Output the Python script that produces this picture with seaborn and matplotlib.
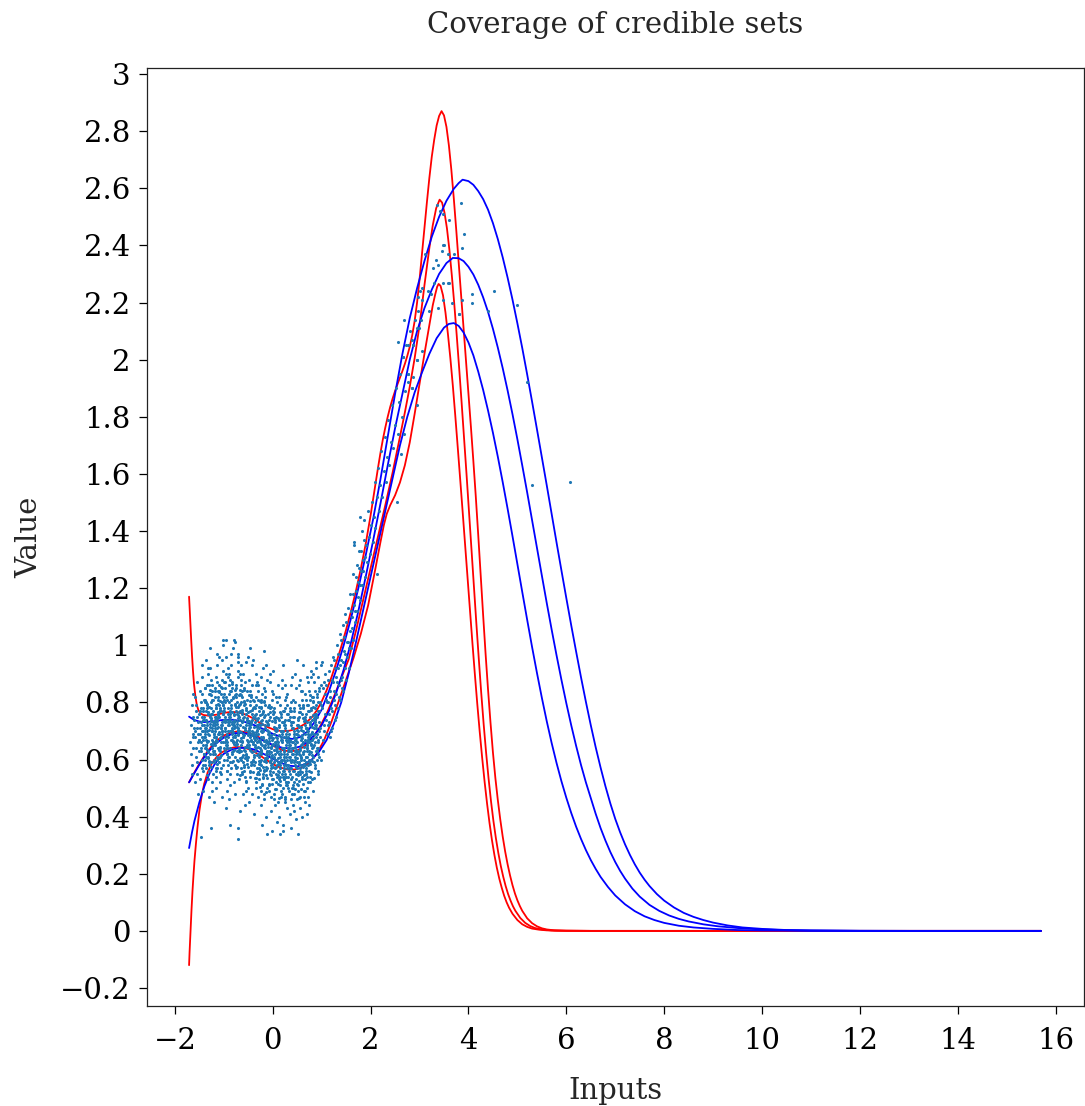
import matplotlib
matplotlib.use("Agg")
import matplotlib.pyplot as plt
from matplotlib.ticker import FuncFormatter
import seaborn as sns

sns.set_theme(style="white")
plt.rcParams["font.family"] = ["DejaVu Serif", "DejaVu Sans"]
plt.rcParams["axes.unicode_minus"] = True

# ---------------- curves ----------------
red_hi_x = [-1.71, -1.69, -1.67, -1.65, -1.63, -1.61, -1.58, -1.55, -1.52, -1.48, -1.42, -1.30, -1.15, -1.00,
            -0.85, -0.70, -0.55, -0.40, -0.25, -0.10, 0.05, 0.20, 0.35, 0.50, 0.65, 0.80, 0.90, 1.00, 1.10,
            1.20, 1.30, 1.40, 1.50, 1.60, 1.70, 1.80, 1.90, 2.00, 2.05, 2.10, 2.15, 2.20, 2.25, 2.30, 2.35,
            2.40, 2.45, 2.50, 2.55, 2.60, 2.65, 2.70, 2.75, 2.80, 2.85, 2.90, 2.95, 3.00, 3.05, 3.10, 3.15,
            3.20, 3.25, 3.30, 3.35, 3.40, 3.45, 3.50, 3.55, 3.60, 3.65, 3.70, 3.75, 3.80, 3.85, 3.90, 3.95,
            4.00, 4.05, 4.10, 4.15, 4.20, 4.25, 4.30, 4.35, 4.40, 4.45, 4.50, 4.55, 4.60, 4.65, 4.70, 4.75,
            4.80, 4.85, 4.90, 4.95, 5.00, 5.05, 5.10, 5.20, 5.30, 5.40, 5.50, 5.60, 5.75, 6.00, 6.50, 15.7]
red_hi_y = [1.17, 1.10, 1.03, 0.965, 0.91, 0.865, 0.82, 0.79, 0.773, 0.762, 0.756, 0.753, 0.757, 0.763,
            0.767, 0.765, 0.757, 0.744, 0.727, 0.713, 0.703, 0.699, 0.701, 0.709, 0.724, 0.748, 0.772, 0.803,
            0.842, 0.888, 0.94, 0.995, 1.055, 1.12, 1.19, 1.268, 1.355, 1.455, 1.51, 1.565, 1.62, 1.672, 1.72,
            1.762, 1.80, 1.834, 1.864, 1.89, 1.914, 1.937, 1.96, 1.985, 2.013, 2.045, 2.085, 2.135, 2.20, 2.28,
            2.37, 2.46, 2.55, 2.635, 2.71, 2.77, 2.82, 2.853, 2.87, 2.855, 2.815, 2.75, 2.665, 2.565, 2.455,
            2.34, 2.225, 2.11, 1.995, 1.88, 1.765, 1.645, 1.52, 1.385, 1.245, 1.105, 0.97, 0.845, 0.73, 0.625,
            0.535, 0.458, 0.39, 0.33, 0.278, 0.233, 0.194, 0.16, 0.131, 0.107, 0.087, 0.07, 0.044, 0.027,
            0.016, 0.009, 0.005, 0.002, 0.0006, 0.0, 0.0]

red_mid_x = [-1.71, -1.60, -1.50, -1.40, -1.30, -1.20, -1.10, -1.00, -0.85, -0.70, -0.55, -0.40, -0.25,
             -0.10, 0.05, 0.20, 0.35, 0.50, 0.65, 0.80, 0.95, 1.10, 1.25, 1.40, 1.55, 1.70, 1.85, 2.00, 2.15,
             2.30, 2.45, 2.60, 2.70, 2.80, 2.90, 3.00, 3.10, 3.20, 3.27, 3.34, 3.41, 3.46, 3.51, 3.56, 3.61,
             3.66, 3.71, 3.76, 3.81, 3.86, 3.91, 3.96, 4.01, 4.06, 4.11, 4.16, 4.21, 4.26, 4.31, 4.36, 4.41,
             4.46, 4.51, 4.56, 4.61, 4.66, 4.71, 4.76, 4.81, 4.86, 4.91, 4.96, 5.06, 5.16, 5.26, 5.36, 5.50,
             5.70, 6.00, 6.50, 15.7]
red_mid_y = [0.52, 0.555, 0.585, 0.612, 0.636, 0.656, 0.672, 0.684, 0.695, 0.699, 0.696, 0.688, 0.675,
             0.659, 0.644, 0.633, 0.628, 0.632, 0.646, 0.672, 0.71, 0.76, 0.82, 0.885, 0.95, 1.05, 1.16, 1.27,
             1.38, 1.49, 1.605, 1.73, 1.815, 1.905, 2.005, 2.12, 2.26, 2.39, 2.47, 2.53, 2.56, 2.55, 2.515,
             2.46, 2.385, 2.295, 2.195, 2.085, 1.97, 1.85, 1.725, 1.60, 1.47, 1.34, 1.21, 1.08, 0.955, 0.835,
             0.725, 0.625, 0.535, 0.455, 0.385, 0.325, 0.273, 0.228, 0.19, 0.157, 0.129, 0.106, 0.086, 0.07,
             0.045, 0.028, 0.017, 0.01, 0.005, 0.0015, 0.0004, 0.0, 0.0]

red_lo_x = [-1.71, -1.70, -1.68, -1.66, -1.64, -1.62, -1.60, -1.57, -1.54, -1.50, -1.45, -1.40, -1.33, -1.25,
            -1.15, -1.05, -0.90, -0.75, -0.60, -0.45, -0.30, -0.15, 0.00, 0.15, 0.30, 0.45, 0.60, 0.75, 0.90,
            1.05, 1.20, 1.35, 1.50, 1.65, 1.80, 1.95, 2.10, 2.20, 2.27, 2.33, 2.40, 2.50, 2.60, 2.70, 2.80,
            2.90, 3.00, 3.10, 3.20, 3.27, 3.32, 3.36, 3.39, 3.43, 3.48, 3.53, 3.58, 3.63, 3.68, 3.73, 3.78,
            3.83, 3.88, 3.93, 3.98, 4.03, 4.08, 4.13, 4.18, 4.23, 4.28, 4.33, 4.38, 4.43, 4.48, 4.53, 4.58,
            4.63, 4.68, 4.73, 4.78, 4.83, 4.90, 5.00, 5.10, 5.20, 5.30, 5.45, 5.60, 5.80, 6.50, 15.7]
red_lo_y = [-0.12, -0.075, 0.0, 0.075, 0.14, 0.195, 0.245, 0.305, 0.36, 0.42, 0.475, 0.515, 0.555, 0.585,
            0.608, 0.624, 0.638, 0.644, 0.642, 0.634, 0.619, 0.601, 0.584, 0.572, 0.565, 0.565, 0.572, 0.589,
            0.62, 0.668, 0.732, 0.805, 0.88, 0.955, 1.04, 1.14, 1.27, 1.36, 1.42, 1.46, 1.49, 1.525, 1.57,
            1.63, 1.71, 1.81, 1.915, 2.02, 2.12, 2.19, 2.228, 2.255, 2.265, 2.258, 2.225, 2.165, 2.09, 2.005,
            1.91, 1.805, 1.695, 1.583, 1.47, 1.355, 1.24, 1.125, 1.01, 0.90, 0.795, 0.697, 0.606, 0.522,
            0.446, 0.378, 0.318, 0.266, 0.221, 0.183, 0.151, 0.123, 0.10, 0.081, 0.06, 0.038, 0.023, 0.014,
            0.008, 0.004, 0.0018, 0.0006, 0.0, 0.0]

blue_hi_x = [-1.71, -1.60, -1.50, -1.40, -1.20, -1.00, -0.80, -0.60, -0.40, -0.20, 0.00, 0.20, 0.40, 0.55,
             0.70, 0.85, 1.00, 1.15, 1.30, 1.45, 1.60, 1.75, 1.90, 2.05, 2.20, 2.35, 2.50, 2.65, 2.80, 2.95,
             3.10, 3.25, 3.40, 3.55, 3.70, 3.80, 3.88, 4.00, 4.10, 4.20, 4.30, 4.40, 4.50, 4.60, 4.70, 4.80,
             4.90, 5.00, 5.10, 5.20, 5.30, 5.40, 5.50, 5.60, 5.70, 5.80, 5.90, 6.00, 6.10, 6.20, 6.30, 6.40,
             6.50, 6.60, 6.70, 6.80, 6.90, 7.00, 7.10, 7.20, 7.30, 7.40, 7.50, 7.60, 7.70, 7.85, 8.00, 8.20,
             8.40, 8.60, 8.80, 9.00, 9.30, 9.60, 10.0, 10.5, 11.0, 12.0, 13.0, 15.7]
blue_hi_y = [0.75, 0.738, 0.733, 0.731, 0.734, 0.739, 0.739, 0.733, 0.722, 0.707, 0.69, 0.677, 0.672, 0.678,
             0.697, 0.73, 0.775, 0.84, 0.915, 1.0, 1.095, 1.20, 1.315, 1.44, 1.58, 1.73, 1.88, 2.02, 2.145,
             2.25, 2.345, 2.43, 2.50, 2.556, 2.598, 2.618, 2.63, 2.625, 2.612, 2.59, 2.562, 2.525, 2.478,
             2.422, 2.358, 2.287, 2.21, 2.127, 2.04, 1.948, 1.853, 1.756, 1.658, 1.56, 1.46, 1.36, 1.262,
             1.165, 1.07, 0.978, 0.888, 0.802, 0.72, 0.643, 0.572, 0.506, 0.446, 0.392, 0.345, 0.303, 0.266,
             0.233, 0.204, 0.179, 0.157, 0.129, 0.106, 0.082, 0.063, 0.049, 0.038, 0.029, 0.019, 0.012,
             0.007, 0.003, 0.0015, 0.0003, 0.0, 0.0]

blue_mid_x = [-1.71, -1.60, -1.50, -1.40, -1.30, -1.20, -1.00, -0.80, -0.60, -0.40, -0.20, 0.00, 0.20, 0.40,
              0.55, 0.70, 0.85, 1.00, 1.15, 1.30, 1.45, 1.60, 1.75, 1.90, 2.05, 2.20, 2.35, 2.50, 2.65, 2.80,
              2.95, 3.10, 3.25, 3.40, 3.55, 3.68, 3.80, 3.90, 4.00, 4.10, 4.20, 4.30, 4.40, 4.50, 4.60, 4.70,
              4.80, 4.90, 5.00, 5.10, 5.20, 5.30, 5.40, 5.50, 5.60, 5.70, 5.80, 5.90, 6.00, 6.10, 6.20, 6.30,
              6.40, 6.50, 6.60, 6.70, 6.80, 6.90, 7.00, 7.10, 7.20, 7.35, 7.50, 7.70, 7.90, 8.10, 8.30, 8.50,
              8.80, 9.10, 9.50, 10.0, 10.5, 11.0, 12.0, 13.0, 15.7]
blue_mid_y = [0.52, 0.553, 0.582, 0.608, 0.63, 0.65, 0.677, 0.692, 0.693, 0.683, 0.667, 0.651, 0.641, 0.638,
              0.645, 0.66, 0.685, 0.72, 0.77, 0.835, 0.915, 1.01, 1.12, 1.24, 1.365, 1.495, 1.63, 1.76, 1.88,
              2.0, 2.1, 2.18, 2.245, 2.30, 2.338, 2.356, 2.355, 2.345, 2.325, 2.298, 2.262, 2.218, 2.167,
              2.108, 2.042, 1.97, 1.892, 1.809, 1.721, 1.629, 1.535, 1.438, 1.341, 1.244, 1.148, 1.055, 0.965,
              0.879, 0.797, 0.72, 0.648, 0.581, 0.52, 0.465, 0.41, 0.36, 0.316, 0.276, 0.241, 0.21, 0.183,
              0.148, 0.12, 0.091, 0.07, 0.054, 0.042, 0.033, 0.023, 0.016, 0.01, 0.005, 0.0025, 0.0012,
              0.0002, 0.0, 0.0]

blue_lo_x = [-1.71, -1.65, -1.60, -1.50, -1.40, -1.30, -1.20, -1.10, -1.00, -0.85, -0.70, -0.55, -0.40,
             -0.25, -0.10, 0.05, 0.20, 0.35, 0.50, 0.65, 0.80, 0.95, 1.10, 1.25, 1.40, 1.55, 1.70, 1.85, 2.00,
             2.15, 2.30, 2.45, 2.60, 2.75, 2.90, 3.05, 3.20, 3.35, 3.50, 3.60, 3.70, 3.80, 3.90, 4.00, 4.10,
             4.20, 4.30, 4.40, 4.50, 4.60, 4.70, 4.80, 4.90, 5.00, 5.10, 5.20, 5.30, 5.40, 5.50, 5.60, 5.70,
             5.80, 5.90, 6.00, 6.10, 6.20, 6.30, 6.40, 6.50, 6.60, 6.70, 6.85, 7.00, 7.20, 7.40, 7.60, 7.80,
             8.00, 8.30, 8.60, 9.00, 9.50, 10.0, 11.0, 12.0, 15.7]
blue_lo_y = [0.29, 0.345, 0.385, 0.45, 0.505, 0.548, 0.58, 0.604, 0.62, 0.634, 0.64, 0.641, 0.636, 0.625,
             0.612, 0.598, 0.586, 0.578, 0.576, 0.583, 0.60, 0.628, 0.668, 0.725, 0.80, 0.90, 1.01, 1.125,
             1.24, 1.355, 1.47, 1.585, 1.70, 1.80, 1.885, 1.955, 2.02, 2.075, 2.112, 2.125, 2.128, 2.118,
             2.095, 2.06, 2.015, 1.958, 1.894, 1.822, 1.744, 1.66, 1.571, 1.478, 1.382, 1.284, 1.186, 1.089,
             0.994, 0.903, 0.816, 0.734, 0.658, 0.588, 0.524, 0.466, 0.413, 0.365, 0.322, 0.283, 0.248, 0.217,
             0.189, 0.154, 0.124, 0.093, 0.069, 0.051, 0.038, 0.028, 0.018, 0.012, 0.007, 0.003, 0.0015,
             0.0003, 0.0, 0.0]

blob_x = [
    -1.69, -1.67, -1.66, -1.64, -1.62, -1.68, -1.65, -1.63, -1.61, -1.66, -1.64, -1.62,
    -1.59, -1.57, -1.56, -1.54, -1.52, -1.51, -1.58, -1.55, -1.53, -1.60, -1.57, -1.55, -1.52, -1.59, -1.54,
    -1.56, -1.51, -1.58, -1.53, -1.55,
    -1.49, -1.47, -1.46, -1.44, -1.42, -1.41, -1.48, -1.45, -1.43, -1.50, -1.47, -1.45, -1.42, -1.49, -1.44,
    -1.46, -1.41, -1.48, -1.43, -1.45, -1.47, -1.42, -1.50, -1.44, -1.46, -1.48,
    -1.39, -1.37, -1.36, -1.34, -1.32, -1.31, -1.38, -1.35, -1.33, -1.40, -1.37, -1.35, -1.32, -1.39, -1.34,
    -1.36, -1.31, -1.38, -1.33, -1.35, -1.37, -1.32, -1.40, -1.34, -1.36, -1.38, -1.30, -1.33, -1.39, -1.35,
    -1.31, -1.36,
    -1.23, -1.28, -1.21, -1.25, -1.30, -1.24, -1.22, -1.27, -1.29, -1.24, -1.20, -1.26, -1.25, -1.23, -1.28,
    -1.21, -1.27, -1.24, -1.29, -1.22, -1.25, -1.26, -1.23, -1.30, -1.21, -1.24, -1.27, -1.28, -1.22, -1.25,
    -1.26, -1.23,
    -1.15, -1.12, -1.19, -1.13, -1.14, -1.17, -1.20, -1.11, -1.16, -1.13, -1.15, -1.18, -1.10, -1.14, -1.19,
    -1.12, -1.17, -1.15, -1.11, -1.16, -1.18, -1.13, -1.14, -1.19, -1.12, -1.17, -1.15, -1.11, -1.20, -1.14,
    -1.18, -1.13,
    -1.09, -1.07, -1.06, -1.04, -1.02, -1.01, -1.08, -1.05, -1.03, -1.10, -1.07, -1.05, -1.02, -1.09, -1.04,
    -1.06, -1.01, -1.08, -1.03, -1.05, -1.07, -1.02, -1.10, -1.04, -1.06, -1.08, -1.00, -1.03, -1.09, -1.05,
    -1.01, -1.06,
    -0.93, -0.98, -0.91, -0.95, -1.00, -0.94, -0.92, -0.97, -0.99, -0.94, -0.90, -0.96, -0.95, -0.93, -0.98,
    -0.91, -0.97, -0.94, -0.99, -0.92, -0.95, -0.96, -0.93, -1.00, -0.91, -0.94, -0.97, -0.98, -0.92, -0.95,
    -0.96, -0.93,
    -0.85, -0.82, -0.89, -0.83, -0.84, -0.87, -0.90, -0.81, -0.86, -0.83, -0.85, -0.88, -0.80, -0.84, -0.89,
    -0.82, -0.87, -0.85, -0.81, -0.86, -0.88, -0.83, -0.84, -0.89, -0.82, -0.87, -0.85, -0.81, -0.90, -0.84,
    -0.88, -0.83,
    -0.79, -0.77, -0.76, -0.74, -0.72, -0.71, -0.78, -0.75, -0.73, -0.80, -0.77, -0.75, -0.72, -0.79, -0.74,
    -0.76, -0.71, -0.78, -0.73, -0.75, -0.77, -0.72, -0.80, -0.74, -0.76, -0.78, -0.70, -0.73, -0.79, -0.75,
    -0.71, -0.76,
    -0.63, -0.68, -0.61, -0.65, -0.70, -0.64, -0.62, -0.67, -0.69, -0.64, -0.60, -0.66, -0.65, -0.63, -0.68,
    -0.61, -0.67, -0.64, -0.69, -0.62, -0.65, -0.66, -0.63, -0.70, -0.61, -0.64, -0.67, -0.68, -0.62, -0.65,
    -0.66, -0.63,
    -0.55, -0.52, -0.59, -0.53, -0.54, -0.57, -0.60, -0.51, -0.56, -0.53, -0.55, -0.58, -0.50, -0.54, -0.59,
    -0.52, -0.57, -0.55, -0.51, -0.56, -0.58, -0.53, -0.54, -0.59, -0.52, -0.57, -0.55, -0.51, -0.60, -0.54,
    -0.58, -0.53,
    -0.49, -0.47, -0.46, -0.44, -0.42, -0.41, -0.48, -0.45, -0.43, -0.50, -0.47, -0.45, -0.42, -0.49, -0.44,
    -0.46, -0.41, -0.48, -0.43, -0.45, -0.47, -0.42, -0.50, -0.44, -0.46, -0.48, -0.40, -0.43, -0.49, -0.45,
    -0.41, -0.46,
    -0.33, -0.38, -0.31, -0.35, -0.40, -0.34, -0.32, -0.37, -0.39, -0.34, -0.30, -0.36, -0.35, -0.33, -0.38,
    -0.31, -0.37, -0.34, -0.39, -0.32, -0.35, -0.36, -0.33, -0.40, -0.31, -0.34, -0.37, -0.38, -0.32, -0.35,
    -0.36, -0.33,
    -0.25, -0.22, -0.29, -0.23, -0.24, -0.27, -0.30, -0.21, -0.26, -0.23, -0.25, -0.28, -0.20, -0.24, -0.29,
    -0.22, -0.27, -0.25, -0.21, -0.26, -0.28, -0.23, -0.24, -0.29, -0.22, -0.27, -0.25, -0.21, -0.30, -0.24,
    -0.28, -0.23,
    -0.19, -0.17, -0.16, -0.14, -0.12, -0.11, -0.18, -0.15, -0.13, -0.20, -0.17, -0.15, -0.12, -0.19, -0.14,
    -0.16, -0.11, -0.18, -0.13, -0.15, -0.17, -0.12, -0.20, -0.14, -0.16, -0.18, -0.10, -0.13, -0.19, -0.15,
    -0.11, -0.16,
    -0.03, -0.08, -0.01, -0.05, -0.10, -0.04, -0.02, -0.07, -0.09, -0.04, 0.00, -0.06, -0.05, -0.03, -0.08,
    -0.01, -0.07, -0.04, -0.09, -0.02, -0.05, -0.06, -0.03, -0.10, -0.01, -0.04, -0.07, -0.08, -0.02, -0.05,
    -0.06, -0.03,
    0.05, 0.08, 0.01, 0.07, 0.06, 0.03, 0.00, 0.09, 0.04, 0.07, 0.05, 0.02, 0.10, 0.06, 0.01,
    0.08, 0.03, 0.05, 0.09, 0.04, 0.02, 0.07, 0.06, 0.01, 0.08, 0.03, 0.05, 0.09, 0.00, 0.06,
    0.02, 0.07,
    0.11, 0.13, 0.14, 0.16, 0.18, 0.19, 0.12, 0.15, 0.17, 0.10, 0.13, 0.15, 0.18, 0.11, 0.16,
    0.14, 0.19, 0.12, 0.17, 0.15, 0.13, 0.18, 0.10, 0.16, 0.14, 0.12, 0.20, 0.17, 0.11, 0.15,
    0.19, 0.14,
    0.27, 0.22, 0.29, 0.25, 0.20, 0.26, 0.28, 0.23, 0.21, 0.26, 0.30, 0.24, 0.25, 0.27, 0.22,
    0.29, 0.23, 0.26, 0.21, 0.28, 0.25, 0.24, 0.27, 0.20, 0.29, 0.26, 0.23, 0.22, 0.28, 0.25,
    0.24, 0.27,
    0.35, 0.38, 0.31, 0.37, 0.36, 0.33, 0.30, 0.39, 0.34, 0.37, 0.35, 0.32, 0.40, 0.36, 0.31,
    0.38, 0.33, 0.35, 0.39, 0.34, 0.32, 0.37, 0.36, 0.31, 0.38, 0.33, 0.35, 0.39, 0.30, 0.36,
    0.32, 0.37,
    0.41, 0.43, 0.44, 0.46, 0.48, 0.49, 0.42, 0.45, 0.47, 0.40, 0.43, 0.45, 0.48, 0.41, 0.46,
    0.44, 0.49, 0.42, 0.47, 0.45, 0.43, 0.48, 0.40, 0.46, 0.44, 0.42, 0.50, 0.47, 0.41, 0.45,
    0.49, 0.44,
    0.57, 0.52, 0.59, 0.55, 0.50, 0.56, 0.58, 0.53, 0.51, 0.56, 0.60, 0.54, 0.55, 0.57, 0.52,
    0.59, 0.53, 0.56, 0.51, 0.58, 0.55, 0.54, 0.57, 0.50, 0.59, 0.56, 0.53, 0.52, 0.58, 0.55,
    0.54, 0.57,
    0.65, 0.68, 0.61, 0.67, 0.66, 0.63, 0.60, 0.69, 0.64, 0.67, 0.65, 0.62, 0.70, 0.66, 0.61,
    0.68, 0.63, 0.65, 0.69, 0.64, 0.62, 0.67, 0.66, 0.61, 0.68, 0.63, 0.65, 0.69, 0.60, 0.66,
    0.62, 0.67,
    0.71, 0.73, 0.74, 0.76, 0.78, 0.79, 0.72, 0.75, 0.77, 0.70, 0.73, 0.75, 0.78, 0.71, 0.76,
    0.74, 0.79, 0.72, 0.77, 0.75, 0.73, 0.78, 0.70, 0.76, 0.74, 0.72, 0.80, 0.77, 0.71, 0.75,
    0.79, 0.74,
    0.81, 0.83, 0.84, 0.86, 0.88, 0.89, 0.82, 0.85, 0.87, 0.80, 0.83, 0.85, 0.88, 0.81, 0.86,
    0.84, 0.89, 0.82, 0.87, 0.85, 0.83, 0.88, 0.80, 0.86,
    0.91, 0.93, 0.94, 0.96, 0.98, 0.99, 0.92, 0.95, 0.97, 0.90, 0.93, 0.95, 0.98, 0.91, 0.96,
    0.94, 0.99, 0.92,
    1.01, 1.03, 1.04, 1.06, 1.08, 1.02, 1.05, 1.07, 1.00, 1.04, 1.06, 1.03,
]
blob_y = [
    0.66, 0.72, 0.58, 0.75, 0.69, 0.62, 0.79, 0.64, 0.71, 0.55, 0.68, 0.83,
    0.70, 0.64, 0.77, 0.59, 0.73, 0.67, 0.82, 0.55, 0.69, 0.74, 0.61, 0.87, 0.66, 0.52, 0.71,
    0.79, 0.63, 0.68, 0.48, 0.75,
    0.71, 0.66, 0.78, 0.60, 0.74, 0.68, 0.84, 0.57, 0.70, 0.76, 0.63, 0.89, 0.65, 0.53, 0.72,
    0.80, 0.62, 0.69, 0.49, 0.75, 0.73, 0.58, 0.67, 0.93, 0.64, 0.77,
    0.70, 0.74, 0.65, 0.79, 0.61, 0.83, 0.68, 0.72, 0.63, 0.81, 0.57, 0.86, 0.69, 0.71, 0.66,
    0.77, 0.59, 0.85, 0.53, 0.73, 0.67, 0.76, 0.62, 0.70, 0.64, 0.80, 0.56, 0.90, 0.60, 0.78,
    0.47, 0.95,
    0.77, 0.62, 0.73, 0.84, 0.58, 0.70, 0.66, 0.88, 0.75, 0.52, 0.69, 0.80, 0.64, 0.72, 0.92,
    0.60, 0.74, 0.67, 0.83, 0.55, 0.71, 0.78, 0.63, 0.86, 0.68, 0.49, 0.76, 0.99, 0.65, 0.81,
    0.59, 0.73,
    0.68, 0.82, 0.74, 0.57, 0.71, 0.89, 0.63, 0.76, 0.66, 0.93, 0.54, 0.72, 0.79, 0.61, 0.85,
    0.69, 0.75, 0.50, 0.64, 0.78, 0.70, 0.97, 0.60, 0.73, 0.84, 0.56, 0.67, 0.81, 0.45, 0.74,
    0.62, 0.87,
    0.75, 0.61, 0.83, 0.70, 0.91, 0.66, 0.78, 0.55, 0.73, 0.86, 0.64, 0.71, 1.00, 0.59, 0.80,
    0.68, 0.76, 0.52, 0.88, 0.72, 0.63, 0.82, 0.69, 0.95, 0.57, 0.77, 0.74, 0.47, 0.84, 0.66,
    0.79, 0.71,
    0.69, 0.80, 0.58, 0.74, 0.87, 0.64, 0.92, 0.71, 0.77, 0.53, 0.83, 0.67, 1.02, 0.62, 0.75,
    0.89, 0.70, 0.56, 0.81, 0.73, 0.65, 0.96, 0.60, 0.78, 0.72, 0.49, 0.85, 0.68, 0.76, 0.43,
    0.90, 0.66,
    0.78, 0.66, 0.90, 0.71, 0.59, 0.84, 0.74, 0.63, 0.97, 0.69, 0.81, 0.55, 0.76, 0.87, 0.61,
    0.72, 0.51, 0.93, 0.68, 0.79, 0.64, 0.85, 0.73, 0.46, 0.82, 0.70, 0.57, 0.99, 0.75, 0.67,
    0.88, 0.62,
    0.73, 0.58, 0.82, 0.67, 0.94, 0.70, 0.61, 0.86, 0.76, 0.52, 0.79, 0.65, 0.89, 0.72, 0.55,
    0.83, 0.69, 1.01, 0.63, 0.77, 0.48, 0.91, 0.74, 0.60, 0.85, 0.68, 0.36, 0.80, 0.71, 0.57,
    0.96, 0.66,
    0.66, 0.79, 0.59, 0.88, 0.71, 0.63, 0.84, 0.74, 0.53, 0.93, 0.68, 0.77, 0.57, 0.82, 0.70,
    0.48, 0.90, 0.65, 0.75, 0.61, 0.86, 0.72, 0.55, 0.97, 0.69, 0.80, 0.42, 0.64, 0.76, 0.60,
    0.83, 0.73,
    0.72, 0.60, 0.85, 0.67, 0.78, 0.54, 0.90, 0.70, 0.63, 0.81, 0.49, 0.75, 0.66, 0.94, 0.58,
    0.73, 0.87, 0.62, 0.69, 0.44, 0.80, 0.65, 0.76, 0.56, 0.84, 0.71, 0.52, 0.96, 0.68, 0.61,
    0.79, 0.74,
    0.64, 0.77, 0.56, 0.82, 0.70, 0.60, 0.88, 0.67, 0.74, 0.50, 0.79, 0.63, 0.93, 0.71, 0.58,
    0.84, 0.66, 0.45, 0.76, 0.69, 0.54, 0.86, 0.61, 0.73, 0.99, 0.65, 0.81, 0.48, 0.72, 0.59,
    0.78, 0.68,
    0.70, 0.58, 0.81, 0.64, 0.75, 0.52, 0.87, 0.67, 0.61, 0.79, 0.47, 0.73, 0.90, 0.55, 0.69,
    0.84, 0.63, 0.76, 0.41, 0.66, 0.82, 0.59, 0.72, 0.95, 0.62, 0.50, 0.78, 0.68, 0.57, 0.86,
    0.65, 0.74,
    0.63, 0.76, 0.55, 0.80, 0.68, 0.59, 0.86, 0.65, 0.72, 0.49, 0.78, 0.61, 0.92, 0.70, 0.53,
    0.83, 0.64, 0.44, 0.74, 0.67, 0.57, 0.89, 0.60, 0.71, 0.37, 0.66, 0.81, 0.51, 0.69, 0.58,
    0.77, 0.62,
    0.68, 0.56, 0.79, 0.62, 0.73, 0.50, 0.85, 0.65, 0.59, 0.77, 0.46, 0.71, 0.88, 0.54, 0.67,
    0.82, 0.61, 0.75, 0.40, 0.64, 0.80, 0.57, 0.70, 0.93, 0.60, 0.48, 0.76, 0.66, 0.55, 0.84,
    0.63, 0.72,
    0.61, 0.74, 0.53, 0.78, 0.66, 0.57, 0.84, 0.63, 0.70, 0.47, 0.76, 0.59, 0.90, 0.68, 0.51,
    0.81, 0.62, 0.42, 0.72, 0.65, 0.55, 0.87, 0.58, 0.69, 0.35, 0.64, 0.79, 0.49, 0.67, 0.56,
    0.75, 0.60,
    0.66, 0.54, 0.77, 0.60, 0.71, 0.48, 0.83, 0.63, 0.57, 0.75, 0.44, 0.69, 0.86, 0.52, 0.65,
    0.80, 0.59, 0.73, 0.38, 0.62, 0.78, 0.55, 0.68, 0.91, 0.58, 0.46, 0.74, 0.64, 0.53, 0.82,
    0.61, 0.70,
    0.59, 0.72, 0.51, 0.76, 0.64, 0.55, 0.82, 0.61, 0.68, 0.45, 0.74, 0.57, 0.88, 0.66, 0.49,
    0.79, 0.60, 0.40, 0.70, 0.63, 0.53, 0.85, 0.56, 0.67, 0.34, 0.62, 0.77, 0.47, 0.65, 0.54,
    0.73, 0.58,
    0.65, 0.53, 0.76, 0.59, 0.70, 0.47, 0.82, 0.62, 0.56, 0.74, 0.43, 0.68, 0.86, 0.51, 0.64,
    0.79, 0.58, 0.72, 0.37, 0.61, 0.78, 0.54, 0.67, 0.93, 0.57, 0.45, 0.73, 0.63, 0.52, 0.81,
    0.60, 0.69,
    0.60, 0.73, 0.52, 0.77, 0.65, 0.56, 0.83, 0.62, 0.69, 0.46, 0.75, 0.58, 0.89, 0.67, 0.50,
    0.80, 0.61, 0.41, 0.71, 0.64, 0.54, 0.86, 0.57, 0.68, 0.36, 0.63, 0.78, 0.48, 0.66, 0.55,
    0.74, 0.59,
    0.64, 0.52, 0.75, 0.58, 0.69, 0.46, 0.81, 0.61, 0.55, 0.73, 0.42, 0.67, 0.85, 0.50, 0.63,
    0.78, 0.57, 0.71, 0.39, 0.60, 0.77, 0.53, 0.66, 0.90, 0.56, 0.44, 0.72, 0.62, 0.51, 0.80,
    0.59, 0.68,
    0.61, 0.74, 0.53, 0.78, 0.66, 0.57, 0.84, 0.63, 0.70, 0.47, 0.76, 0.59, 0.88, 0.68, 0.51,
    0.81, 0.62, 0.43, 0.72, 0.65, 0.55, 0.86, 0.58, 0.69, 0.40, 0.64, 0.79, 0.49, 0.67, 0.56,
    0.75, 0.60,
    0.67, 0.55, 0.78, 0.61, 0.72, 0.49, 0.84, 0.64, 0.58, 0.76, 0.45, 0.70, 0.89, 0.53, 0.66,
    0.81, 0.60, 0.74, 0.41, 0.63, 0.79, 0.56, 0.69, 0.93, 0.59, 0.47, 0.75, 0.65, 0.54, 0.83,
    0.62, 0.71,
    0.64, 0.77, 0.56, 0.81, 0.69, 0.60, 0.87, 0.66, 0.73, 0.50, 0.79, 0.62, 0.91, 0.71, 0.54,
    0.84, 0.65, 0.47, 0.75, 0.68, 0.58, 0.89, 0.61, 0.72, 0.44, 0.67, 0.82, 0.52, 0.70, 0.59,
    0.78, 0.63,
    0.67, 0.80, 0.59, 0.84, 0.72, 0.63, 0.90, 0.69, 0.76, 0.53, 0.82, 0.65, 0.94, 0.74, 0.57,
    0.87, 0.68, 0.49, 0.78, 0.71, 0.61, 0.92, 0.64, 0.75,
    0.75, 0.66, 0.84, 0.71, 0.79, 0.60, 0.89, 0.73, 0.68, 0.82, 0.56, 0.77, 0.93, 0.64, 0.80,
    0.70, 0.86, 0.62,
    0.78, 0.85, 0.72, 0.90, 0.81, 0.67, 0.87, 0.76, 0.94, 0.70, 0.83, 0.63,
]

core_x = [
    -1.44, -1.41, -1.38, -1.36, -1.43, -1.40, -1.37, -1.42, -1.39, -1.44, -1.38, -1.41, -1.36, -1.43, -1.40, -1.37, -1.42, -1.39, -1.44, -1.38,
    -1.27, -1.32, -1.30, -1.34, -1.29, -1.26, -1.33, -1.28, -1.31, -1.27, -1.34, -1.30, -1.32, -1.26, -1.29, -1.33, -1.28, -1.31, -1.27, -1.34,
    -1.24, -1.21, -1.18, -1.16, -1.23, -1.20, -1.17, -1.22, -1.19, -1.24, -1.18, -1.21, -1.16, -1.23, -1.20, -1.17, -1.22, -1.19, -1.24, -1.18,
    -1.07, -1.12, -1.10, -1.14, -1.09, -1.06, -1.13, -1.08, -1.11, -1.07, -1.14, -1.10, -1.12, -1.06, -1.09, -1.13, -1.08, -1.11, -1.07, -1.14,
    -1.04, -1.01, -0.98, -0.96, -1.03, -1.00, -0.97, -1.02, -0.99, -1.04, -0.98, -1.01, -0.96, -1.03, -1.00, -0.97, -1.02, -0.99, -1.04, -0.98,
    -0.87, -0.92, -0.90, -0.94, -0.89, -0.86, -0.93, -0.88, -0.91, -0.87, -0.94, -0.90, -0.92, -0.86, -0.89, -0.93, -0.88, -0.91, -0.87, -0.94,
    -0.84, -0.81, -0.78, -0.76, -0.83, -0.80, -0.77, -0.82, -0.79, -0.84, -0.78, -0.81, -0.76, -0.83, -0.80, -0.77, -0.82, -0.79, -0.84, -0.78,
    -0.67, -0.72, -0.70, -0.74, -0.69, -0.66, -0.73, -0.68, -0.71, -0.67, -0.74, -0.70, -0.72, -0.66, -0.69, -0.73, -0.68, -0.71, -0.67, -0.74,
    -0.64, -0.61, -0.58, -0.56, -0.63, -0.60, -0.57, -0.62, -0.59, -0.64, -0.58, -0.61, -0.56, -0.63, -0.60, -0.57, -0.62, -0.59, -0.64, -0.58,
    -0.47, -0.52, -0.50, -0.54, -0.49, -0.46, -0.53, -0.48, -0.51, -0.47, -0.54, -0.50, -0.52, -0.46, -0.49, -0.53, -0.48, -0.51, -0.47, -0.54,
    -0.44, -0.41, -0.38, -0.36, -0.43, -0.40, -0.37, -0.42, -0.39, -0.44, -0.38, -0.41, -0.36, -0.43, -0.40, -0.37, -0.42, -0.39, -0.44, -0.38,
    -0.27, -0.32, -0.30, -0.34, -0.29, -0.26, -0.33, -0.28, -0.31, -0.27, -0.34, -0.30, -0.32, -0.26, -0.29, -0.33, -0.28, -0.31, -0.27, -0.34,
    -0.24, -0.21, -0.18, -0.16, -0.23, -0.20, -0.17, -0.22, -0.19, -0.24, -0.18, -0.21, -0.16, -0.23, -0.20, -0.17, -0.22, -0.19, -0.24, -0.18,
    -0.07, -0.12, -0.10, -0.14, -0.09, -0.06, -0.13, -0.08, -0.11, -0.07, -0.14, -0.10, -0.12, -0.06, -0.09, -0.13, -0.08, -0.11, -0.07, -0.14,
    -0.04, -0.01, 0.02, 0.04, -0.03, 0.00, 0.03, -0.02, 0.01, -0.04, 0.02, -0.01, 0.04, -0.03, 0.00, 0.03, -0.02, 0.01, -0.04, 0.02,
    0.13, 0.08, 0.10, 0.06, 0.11, 0.14, 0.07, 0.12, 0.09, 0.13, 0.06, 0.10, 0.08, 0.14, 0.11, 0.07, 0.12, 0.09, 0.13, 0.06,
    0.16, 0.19, 0.22, 0.24, 0.17, 0.20, 0.23, 0.18, 0.21, 0.16, 0.22, 0.19, 0.24, 0.17, 0.20, 0.23, 0.18, 0.21, 0.16, 0.22,
    0.33, 0.28, 0.30, 0.26, 0.31, 0.34, 0.27, 0.32, 0.29, 0.33, 0.26, 0.30, 0.28, 0.34, 0.31, 0.27, 0.32, 0.29, 0.33, 0.26,
    0.36, 0.39, 0.42, 0.44, 0.37, 0.40, 0.43, 0.38, 0.41, 0.36, 0.42, 0.39, 0.44, 0.37, 0.40, 0.43, 0.38, 0.41, 0.36, 0.42,
    0.53, 0.48, 0.50, 0.46, 0.51, 0.54, 0.47, 0.52, 0.49, 0.53, 0.46, 0.50, 0.48, 0.54, 0.51, 0.47, 0.52, 0.49, 0.53, 0.46,
    0.56, 0.59, 0.62, 0.64, 0.57, 0.60, 0.63, 0.58, 0.61, 0.56, 0.62, 0.59, 0.64, 0.57, 0.60, 0.63, 0.58, 0.61, 0.56, 0.62,
    0.73, 0.68, 0.70, 0.66, 0.71, 0.74, 0.67, 0.72, 0.69, 0.73, 0.66, 0.70, 0.68, 0.74, 0.71, 0.67, 0.72, 0.69, 0.73, 0.66,
    0.76, 0.79, 0.82, 0.84, 0.77, 0.80, 0.83, 0.78, 0.81, 0.76, 0.82, 0.79, 0.84, 0.77, 0.80, 0.83, 0.78, 0.81, 0.76, 0.82,
    0.93, 0.88, 0.90, 0.86, 0.91, 0.94, 0.87, 0.92, 0.89, 0.93, 0.86, 0.90, 0.88, 0.94, 0.91, 0.87, 0.92, 0.89, 0.93, 0.86,
]
core_y = [
    0.70, 0.75, 0.64, 0.80, 0.67, 0.72, 0.61, 0.77, 0.58, 0.83, 0.69, 0.74, 0.65, 0.78, 0.62, 0.71, 0.56, 0.81, 0.68, 0.85,
    0.735, 0.665, 0.785, 0.635, 0.715, 0.825, 0.605, 0.755, 0.685, 0.575, 0.795, 0.705, 0.765, 0.655, 0.845, 0.625, 0.725, 0.595, 0.745, 0.545,
    0.86, 0.69, 0.82, 0.57, 0.72, 0.63, 0.79, 0.66, 0.75, 0.70, 0.84, 0.59, 0.78, 0.62, 0.73, 0.68, 0.81, 0.65, 0.76, 0.71,
    0.555, 0.755, 0.605, 0.735, 0.635, 0.855, 0.665, 0.775, 0.715, 0.805, 0.585, 0.695, 0.765, 0.615, 0.835, 0.725, 0.645, 0.795, 0.675, 0.745,
    0.72, 0.77, 0.66, 0.82, 0.69, 0.74, 0.63, 0.79, 0.60, 0.85, 0.71, 0.76, 0.67, 0.80, 0.64, 0.73, 0.58, 0.83, 0.70, 0.87,
    0.75, 0.68, 0.80, 0.65, 0.73, 0.84, 0.62, 0.77, 0.70, 0.59, 0.81, 0.72, 0.78, 0.67, 0.86, 0.64, 0.74, 0.61, 0.76, 0.56,
    0.865, 0.695, 0.825, 0.575, 0.725, 0.635, 0.795, 0.665, 0.755, 0.705, 0.845, 0.595, 0.785, 0.625, 0.735, 0.685, 0.815, 0.655, 0.765, 0.715,
    0.545, 0.745, 0.595, 0.725, 0.625, 0.845, 0.655, 0.765, 0.705, 0.795, 0.575, 0.685, 0.755, 0.605, 0.825, 0.715, 0.635, 0.785, 0.665, 0.735,
    0.695, 0.745, 0.635, 0.795, 0.665, 0.715, 0.605, 0.765, 0.575, 0.825, 0.685, 0.735, 0.645, 0.775, 0.615, 0.705, 0.555, 0.805, 0.675, 0.845,
    0.715, 0.645, 0.765, 0.615, 0.695, 0.805, 0.585, 0.735, 0.665, 0.555, 0.775, 0.685, 0.745, 0.635, 0.825, 0.605, 0.705, 0.575, 0.725, 0.525,
    0.825, 0.655, 0.785, 0.535, 0.685, 0.595, 0.755, 0.625, 0.715, 0.665, 0.805, 0.555, 0.745, 0.585, 0.695, 0.645, 0.775, 0.615, 0.725, 0.675,
    0.505, 0.705, 0.555, 0.685, 0.585, 0.805, 0.615, 0.725, 0.665, 0.755, 0.535, 0.645, 0.715, 0.565, 0.785, 0.675, 0.595, 0.745, 0.625, 0.695,
    0.655, 0.705, 0.595, 0.755, 0.625, 0.675, 0.565, 0.725, 0.535, 0.785, 0.645, 0.695, 0.605, 0.735, 0.575, 0.665, 0.515, 0.765, 0.635, 0.805,
    0.675, 0.605, 0.725, 0.575, 0.655, 0.765, 0.545, 0.695, 0.625, 0.515, 0.735, 0.645, 0.705, 0.595, 0.785, 0.565, 0.665, 0.535, 0.685, 0.485,
    0.785, 0.615, 0.745, 0.495, 0.645, 0.555, 0.715, 0.585, 0.675, 0.625, 0.765, 0.515, 0.705, 0.545, 0.655, 0.605, 0.735, 0.575, 0.685, 0.635,
    0.465, 0.665, 0.515, 0.645, 0.545, 0.765, 0.575, 0.685, 0.625, 0.715, 0.495, 0.605, 0.675, 0.525, 0.745, 0.635, 0.555, 0.705, 0.585, 0.655,
    0.62, 0.67, 0.56, 0.72, 0.59, 0.64, 0.53, 0.69, 0.50, 0.75, 0.61, 0.66, 0.57, 0.70, 0.54, 0.63, 0.48, 0.73, 0.60, 0.77,
    0.65, 0.58, 0.70, 0.55, 0.63, 0.74, 0.52, 0.67, 0.60, 0.49, 0.71, 0.62, 0.68, 0.57, 0.76, 0.54, 0.64, 0.51, 0.66, 0.46,
    0.77, 0.60, 0.73, 0.48, 0.63, 0.54, 0.70, 0.57, 0.66, 0.61, 0.75, 0.50, 0.69, 0.53, 0.64, 0.59, 0.72, 0.56, 0.67, 0.62,
    0.465, 0.665, 0.515, 0.645, 0.545, 0.765, 0.575, 0.685, 0.625, 0.715, 0.495, 0.605, 0.675, 0.525, 0.745, 0.635, 0.555, 0.705, 0.585, 0.655,
    0.635, 0.685, 0.575, 0.735, 0.605, 0.655, 0.545, 0.705, 0.515, 0.765, 0.625, 0.675, 0.585, 0.715, 0.555, 0.645, 0.495, 0.745, 0.615, 0.785,
    0.68, 0.61, 0.73, 0.58, 0.66, 0.77, 0.55, 0.70, 0.63, 0.52, 0.74, 0.65, 0.71, 0.60, 0.79, 0.57, 0.67, 0.54, 0.69, 0.49,
    0.825, 0.655, 0.785, 0.535, 0.685, 0.595, 0.755, 0.625, 0.715, 0.665, 0.805, 0.555, 0.745, 0.585, 0.695, 0.645, 0.775, 0.615, 0.725, 0.675,
    0.55, 0.75, 0.60, 0.73, 0.63, 0.85, 0.66, 0.77, 0.71, 0.80, 0.58, 0.69, 0.76, 0.61, 0.83, 0.72, 0.64, 0.79, 0.67, 0.74,
]

band_x = [1.10, 1.12, 1.13, 1.15, 1.16, 1.18, 1.19, 1.20, 1.22, 1.23, 1.25, 1.26, 1.27, 1.29, 1.30,
          1.31, 1.33, 1.34, 1.36, 1.37, 1.38, 1.40, 1.41, 1.43, 1.44, 1.45, 1.47, 1.48, 1.50, 1.51,
          1.52, 1.54, 1.55, 1.57, 1.58, 1.60, 1.61, 1.63, 1.64, 1.66, 1.67, 1.69, 1.70, 1.72, 1.73,
          1.75, 1.77, 1.78, 1.80, 1.82, 1.83, 1.85, 1.87, 1.88, 1.90, 1.92, 1.94, 1.96, 1.98, 2.00,
          2.02, 2.04, 2.06, 2.08, 2.10, 2.13, 2.15, 2.17, 2.20, 2.22, 2.24, 2.27, 2.29, 2.31, 2.34,
          2.36, 2.38, 2.41, 2.44, 2.46, 2.49, 2.52, 2.55, 2.58, 2.61, 2.64, 2.67, 2.70, 2.73, 2.76,
          2.80, 2.84, 2.86, 2.90, 2.94, 2.96, 3.00, 3.02, 1.78, 1.67, 2.14, 2.53, 2.63, 2.94, 2.69,
          1.08, 1.09, 1.11, 1.12, 1.14, 1.15, 1.17, 1.19, 1.21, 1.22, 1.24, 1.25, 1.27, 1.28, 1.30,
          1.32, 1.33, 1.35, 1.37, 1.39, 1.40, 1.42, 1.44, 1.46, 1.48, 1.50, 1.53, 1.56, 1.59, 1.62,
          1.65, 1.68, 1.71, 1.74, 1.76, 1.79, 1.81, 1.84, 1.86, 1.89]
band_y = [0.80, 0.72, 0.88, 0.76, 0.68, 0.84, 0.93, 0.78, 0.71, 0.87, 0.81, 0.95, 0.74, 0.89, 0.83,
          1.00, 0.78, 0.92, 0.86, 1.04, 0.81, 0.95, 0.89, 1.07, 0.84, 0.98, 0.92, 1.11, 0.88, 1.01,
          0.96, 1.13, 0.92, 1.05, 1.18, 0.99, 1.10, 1.25, 1.02, 1.14, 1.35, 1.08, 1.19, 1.28, 1.12,
          1.22, 1.33, 1.16, 1.26, 1.40, 1.21, 1.30, 1.44, 1.24, 1.35, 1.29, 1.47, 1.38, 1.32, 1.42,
          1.50, 1.36, 1.45, 1.57, 1.41, 1.52, 1.62, 1.47, 1.56, 1.68, 1.52, 1.61, 1.73, 1.57, 1.66,
          1.79, 1.63, 1.71, 1.84, 1.69, 1.77, 1.90, 1.74, 1.85, 1.95, 1.80, 2.01, 1.89, 2.05, 1.95,
          2.10, 1.90, 2.05, 2.14, 2.00, 2.22, 2.24, 2.14, 1.45, 1.36, 1.25, 1.50, 1.67, 1.84, 1.74,
          0.74, 0.86, 0.69, 0.80, 0.91, 0.73, 0.82, 0.70, 0.88, 0.77, 0.96, 0.84, 0.79, 0.92, 0.75,
          0.87, 0.97, 0.82, 0.93, 0.88, 1.02, 0.85, 0.94, 1.03, 0.97, 1.08, 1.01, 0.99, 1.12, 1.06,
          1.18, 1.12, 1.24, 1.17, 1.27, 1.21, 1.33, 1.26, 1.37, 1.31]

peak_x = [3.84, 3.35, 3.47, 3.41, 3.61, 3.90, 3.47, 3.51, 3.45, 3.59, 3.71, 3.86, 3.33, 3.37, 3.27,
          3.12, 3.47, 3.59, 3.29, 3.18, 3.06, 3.24, 3.06, 3.47, 3.86, 4.08, 4.08, 3.67, 3.37, 3.20,
          2.96, 2.69, 3.81, 4.39, 4.53, 5.00, 2.94, 2.98, 2.57, 2.84, 2.86, 2.76, 3.06, 2.76, 2.67,
          2.94, 2.86, 2.76, 2.84, 5.20, 5.29, 6.08, 3.61, 3.81]
peak_y = [2.55, 2.54, 2.51, 2.52, 2.49, 2.44, 2.40, 2.40, 2.38, 2.37, 2.37, 2.39, 2.35, 2.33, 2.32,
          2.37, 2.27, 2.27, 2.27, 2.24, 2.25, 2.23, 2.21, 2.21, 2.21, 2.23, 2.20, 2.20, 2.18, 2.17,
          2.17, 2.14, 2.16, 2.17, 2.24, 2.19, 2.11, 2.11, 2.06, 2.07, 2.05, 2.05, 2.03, 1.95, 2.01,
          2.00, 1.94, 1.92, 1.90, 1.92, 1.56, 1.57, 2.27, 2.16]

outlier_x = [-0.71, -0.12, 0.20, 0.51, -0.88, -1.47, -1.27, -1.02, -0.80, -0.18, -1.10, 0.49, -1.33]
outlier_y = [0.32, 0.34, 0.35, 0.34, 0.37, 0.33, 0.36, 1.02, 1.02, 0.98, 0.96, 0.95, 0.92]

x_ticks = [-2, 0, 2, 4, 6, 8, 10, 12, 14, 16]
y_ticks = [-0.2, 0, 0.2, 0.4, 0.6, 0.8, 1, 1.2, 1.4, 1.6, 1.8, 2, 2.2, 2.4, 2.6, 2.8, 3]

# ---------------- drawing ----------------
fig = plt.figure(figsize=(10.85, 11.06), dpi=100)
ax = fig.add_axes([147 / 1085, 1 - 1006 / 1106, (1083.5 - 147) / 1085, (1006 - 68) / 1106])

for xs, ys in [(red_hi_x, red_hi_y), (red_mid_x, red_mid_y), (red_lo_x, red_lo_y)]:
    sns.lineplot(x=xs, y=ys, ax=ax, color="#ff0000", linewidth=1.3, sort=False,
                 estimator=None, legend=False, zorder=2)
for xs, ys in [(blue_hi_x, blue_hi_y), (blue_mid_x, blue_mid_y), (blue_lo_x, blue_lo_y)]:
    sns.lineplot(x=xs, y=ys, ax=ax, color="#0000ff", linewidth=1.3, sort=False,
                 estimator=None, legend=False, zorder=2)

scatter_x = blob_x + core_x + band_x + peak_x + outlier_x
scatter_y = blob_y + core_y + band_y + peak_y + outlier_y
sns.scatterplot(x=scatter_x, y=scatter_y, ax=ax, s=5, color="#1f77b4", linewidth=0,
                legend=False, zorder=3)

ax.set_xlim(-2.57, 16.57)
ax.set_ylim(-0.263, 3.021)
ax.set_xticks(x_ticks)
ax.set_yticks(y_ticks)
fmt = FuncFormatter(lambda v, p: ("%g" % round(v, 2)).replace("-", "\u2212"))
ax.xaxis.set_major_formatter(fmt)
ax.yaxis.set_major_formatter(fmt)
ax.tick_params(axis="both", direction="out", length=6, width=0.9, labelsize=21,
               colors="black", bottom=True, left=True, top=False, right=False)
ax.tick_params(axis="x", pad=9)
ax.tick_params(axis="y", pad=6)
for sp in ax.spines.values():
    sp.set_color("#222222")
    sp.set_linewidth(0.9)
ax.grid(False)
ax.set_xlabel("Inputs", fontsize=21, labelpad=16)
ax.set_ylabel("Value", fontsize=21, labelpad=12)
ax.set_title("Coverage of credible sets", fontsize=21, pad=25)

fig.savefig("out.png", dpi=100)
